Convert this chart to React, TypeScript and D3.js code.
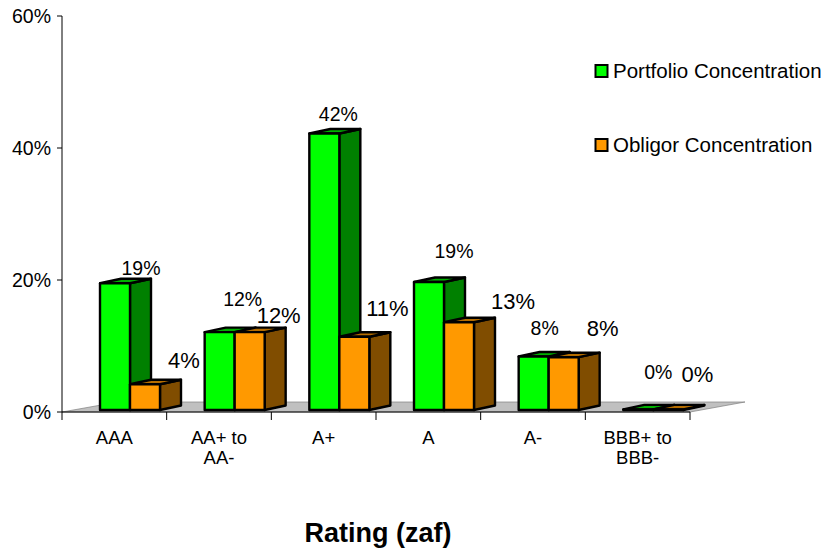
import React from "react";
import * as d3 from "d3";

const categories = ["AAA", "AA+ to|AA-", "A+", "A", "A-", "BBB+ to|BBB-"];
const portfolio = [19.2, 11.8, 41.9, 19.4, 8.1, 0.1];
const obligor = [3.9, 11.8, 11.1, 13.3, 8.0, 0.1];
const portfolioLabels = ["19%", "12%", "42%", "19%", "8%", "0%"];
const obligorLabels = ["4%", "12%", "11%", "13%", "8%", "0%"];
const yTicks = [0, 20, 40, 60];
const seriesNames = ["Portfolio Concentration", "Obligor Concentration"];

const FONT = "'Liberation Sans', Arial, sans-serif";
const DX = 21, DY = -4.5, BAR = 30, BASE = 410;
const GREEN = { front: "#00ff00", top: "#00b000", side: "#008000" };
const ORANGE = { front: "#ff9900", top: "#b56d00", side: "#804d00" };

// label anchor nudges (relative to the bar's front-left corner and top)
const pLabelNudge: [number, number][] = [[41, -15.5], [38, -32.5], [29, -19.5], [40, -30.5], [26, -28.5], [35, -37.5]];
const oLabelNudge: [number, number][] = [[54, -23.5], [44, -16.5], [48, -28.5], [69, -20.5], [54, -28.5], [44, -35.5]];
const P_SIZE = 19.5;
const O_SIZE = 22;

function Bar({ x, top, c }: { x: number; top: number; c: typeof GREEN }) {
  const common = { stroke: "#000", strokeWidth: 2.4, strokeLinejoin: "round" as const };
  return (
    <g {...common}>
      <path fill={c.side} d={`M${x + BAR},${BASE}L${x + BAR + DX},${BASE + DY}L${x + BAR + DX},${top + DY}L${x + BAR},${top}Z`} />
      <path fill={c.top} d={`M${x},${top}L${x + DX},${top + DY}L${x + BAR + DX},${top + DY}L${x + BAR},${top}Z`} />
      <rect x={x} y={top} width={BAR} height={BASE - top} fill={c.front} />
    </g>
  );
}

export default function App() {
  const y = d3.scaleLinear().domain([0, 60]).range([412, 16]);
  const h = d3.scaleLinear().domain([0, 60]).range([BASE, BASE - 396]);
  const x = d3.scaleBand<number>().domain(d3.range(categories.length)).range([62, 690]);
  const step = x.step();
  const barX = (i: number) => (x(i) as number) + 38;
  return (
    <svg width={825} height={550} style={{ position: "absolute", left: 0, top: 0 }} fontFamily={FONT} fill="#000">
      <path d="M62,412L690,412L745,402L118,402Z" fill="#c0c0c0" stroke="#808080" strokeWidth={0.7} />
      <line x1={62} x2={62} y1={16} y2={412} stroke="#000" />
      <line x1={62} x2={690} y1={412} y2={412} stroke="#000" />
      {yTicks.map(t => (
        <g key={t}>
          <line x1={57} x2={62} y1={y(t)} y2={y(t)} stroke="#000" />
          <text x={51} y={y(t)} dy="0.35em" textAnchor="end" fontSize={19.5}>{t}%</text>
        </g>
      ))}
      {d3.range(categories.length + 1).map(i => (
        <line key={i} x1={62 + i * step} x2={62 + i * step} y1={412} y2={420} stroke="#000" />
      ))}
      {categories.map((c, i) => (
        <text key={c} textAnchor="middle" fontSize={18.5}>
          {c.split("|").map((s, k) => (
            <tspan key={k} x={(x(i) as number) + step / 2} y={444 + k * 20}>{s}</tspan>
          ))}
        </text>
      ))}
      {categories.map((_, i) => (
        <g key={i}>
          <Bar x={barX(i)} top={h(portfolio[i])} c={GREEN} />
          <Bar x={barX(i) + BAR} top={h(obligor[i])} c={ORANGE} />
        </g>
      ))}
      {categories.map((_, i) => (
        <g key={i} textAnchor="middle">
          <text x={barX(i) + pLabelNudge[i][0]} y={h(portfolio[i]) + pLabelNudge[i][1]} dy="0.35em" fontSize={P_SIZE}>{portfolioLabels[i]}</text>
          <text x={barX(i) + BAR + oLabelNudge[i][0]} y={h(obligor[i]) + oLabelNudge[i][1]} dy="0.35em" fontSize={O_SIZE}>{obligorLabels[i]}</text>
        </g>
      ))}
      {seriesNames.map((n, i) => {
        const cy = 71 + i * 74;
        return (
          <g key={n}>
            <rect x={595.5} y={cy - 6} width={12} height={12} fill={i === 0 ? GREEN.front : ORANGE.front} stroke="#000" strokeWidth={2} />
            <text x={613} y={cy} dy="0.35em" fontSize={20.5}>{n}</text>
          </g>
        );
      })}
      <text x={378} y={533} dy="0.35em" textAnchor="middle" fontSize={27} fontWeight="bold">Rating (zaf)</text>
    </svg>
  );
}
